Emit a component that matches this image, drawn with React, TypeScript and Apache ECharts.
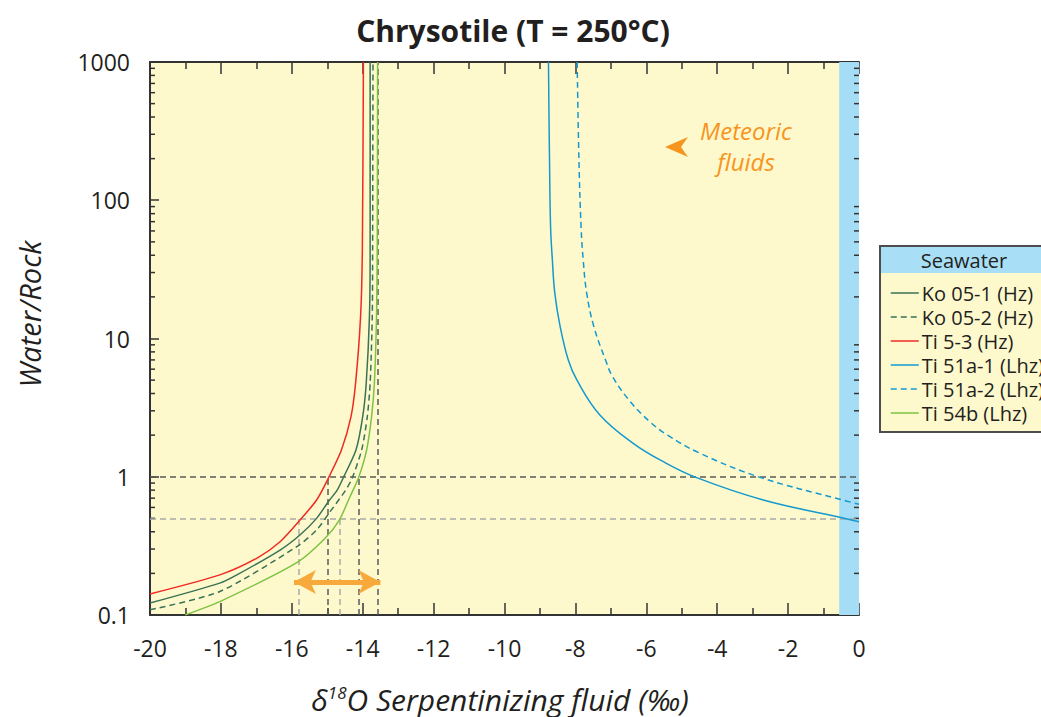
import React, { useEffect, useRef } from 'react';
import * as echarts from 'echarts';

// ---- data ----
const seriesNames = ['Ko 05-1 (Hz)', 'Ko 05-2 (Hz)', 'Ti 5-3 (Hz)', 'Ti 51a-1 (Lhz)', 'Ti 51a-2 (Lhz)', 'Ti 54b (Lhz)'];

const ko051X = [-20.0, -18.03, -17.55, -16.33, -15.77, -15.30, -14.97, -14.72, -14.55, -14.19, -14.0, -13.9, -13.81, -13.79, -13.79];
const ko051W = [0.122, 0.17, 0.195, 0.295, 0.379, 0.5, 0.66, 0.8, 0.98, 1.56, 2.72, 4.77, 14.4, 43.7, 1000];

const ko052X = [-20.0, -18.03, -15.86, -15.3, -14.92, -14.48, -14.3, -14.03, -13.87, -13.79, -13.73, -13.72, -13.71];
const ko052W = [0.109, 0.148, 0.312, 0.412, 0.559, 0.8, 0.975, 1.56, 2.72, 4.77, 14.4, 43.7, 1000];

const ti53X = [-20.0, -18.03, -16.99, -16.33, -15.77, -15.3, -14.97, -14.6, -14.33, -14.2, -14.06, -14.01, -13.98];
const ti53W = [0.142, 0.195, 0.257, 0.339, 0.486, 0.679, 0.975, 1.56, 2.72, 4.77, 14.4, 43.7, 1000];

const ti51a1X = [-8.76, -8.73, -8.7, -8.65, -8.58, -8.43, -8.2, -7.96, -7.31, -6.37, -5.52, -4.58, -2.7, -0.54, 0.0];
const ti51a1W = [1000, 195, 64.4, 37, 21.2, 12.2, 6.98, 5.01, 2.8, 1.746, 1.285, 0.985, 0.679, 0.509, 0.473];

const ti51a2X = [-7.95, -7.9, -7.84, -7.78, -7.68, -7.48, -7.15, -6.95, -6.45, -5.9, -5.4, -4.49, -2.79, -0.54, 0.0];
const ti51a2W = [1000, 195, 64.4, 37, 21.2, 12.2, 6.98, 5.29, 3.49, 2.5, 2.0, 1.48, 0.99, 0.687, 0.632];

const ti54bX = [-19.01, -18.03, -15.86, -15.06, -14.66, -14.36, -14.12, -13.89, -13.75, -13.67, -13.61, -13.59, -13.58];
const ti54bW = [0.1, 0.125, 0.239, 0.359, 0.486, 0.717, 0.98, 1.56, 2.72, 4.77, 14.4, 43.7, 1000];

// reference (dashed) lines
const hLevels = [1, 0.5];
const vDarkX = [-15.0, -14.1];
const vDarkTopW = 1;
const vLightX = [-15.8, -14.66];
const vLightTopW = 0.5;
const vFullX = -13.57;

// seawater band
const seawaterRange = [-0.56, 0];

// range arrow (tip to tip)
const arrowEnds = [-15.94, -13.5];
const arrowW = 0.173;

// axes
const xMin = -20;
const xMax = 0;
const xStep = 2;
const yMin = 0.1;
const yMax = 1000;
const logMinorTicks = [0.2, 0.3, 0.4, 0.5, 0.6, 0.7, 0.8, 0.9, 2, 3, 4, 5, 6, 7, 8, 9, 20, 30, 40, 50, 60, 70, 80, 90, 200, 300, 400, 500, 600, 700, 800, 900];

const FONT = "'Open Sans', sans-serif";
const INK = '#231f20';
const AXIS = '#333333';

const zip = (xs: number[], ws: number[]) => xs.map((x, i) => [x, ws[i]]);

export default function App() {
  const ref = useRef<HTMLDivElement>(null);
  useEffect(() => {
    if (!ref.current) return;
    const chart = echarts.init(ref.current, undefined, { renderer: 'svg' });

    const lineSeries = (name: string, xs: number[], ws: number[], color: string, dashed: boolean, smooth: number) => ({
      name,
      type: 'line',
      data: zip(xs, ws),
      showSymbol: false,
      symbol: 'circle',
      symbolSize: 0,
      smooth,
      clip: true,
      z: 5,
      lineStyle: { color, width: 1.5, type: dashed ? [6, 4] : 'solid' },
      itemStyle: { color },
      emphasis: { disabled: true },
    });

    const dark = '#5a5a5a';
    const light = '#a9a9a9';
    const markLines: any[] = [];
    hLevels.forEach((w, i) => {
      markLines.push([
        { coord: [xMin, w], lineStyle: { color: i === 0 ? dark : light, width: 1.5, type: [6, 4] } },
        { coord: [xMax, w] },
      ]);
    });
    vDarkX.forEach((x) => {
      markLines.push([
        { coord: [x, yMin], lineStyle: { color: dark, width: 1.5, type: [6, 4] } },
        { coord: [x, vDarkTopW] },
      ]);
    });
    vLightX.forEach((x) => {
      markLines.push([
        { coord: [x, yMin], lineStyle: { color: light, width: 1.5, type: [6, 4] } },
        { coord: [x, vLightTopW] },
      ]);
    });
    markLines.push([
      { coord: [vFullX, yMin], lineStyle: { color: dark, width: 1.5, type: [6, 4] } },
      { coord: [vFullX, yMax] },
    ]);

    const option: any = {
      animation: false,
      textStyle: { fontFamily: FONT },
      title: {
        text: 'Chrysotile (T = 250°C)',
        left: 508,
        textAlign: 'center',
        top: 10,
        textStyle: { fontFamily: FONT, fontWeight: 'bold', fontSize: 30, color: INK },
      },
      grid: {
        left: 150,
        right: 182,
        top: 62,
        bottom: 102,
        show: true,
        backgroundColor: '#fef9cd',
        borderWidth: 0,
      },
      legend: {
        data: seriesNames,
        orient: 'vertical',
        left: 880,
        top: 246,
        itemWidth: 28,
        itemHeight: 14,
        itemGap: 4,
        padding: [37, 40, 9, 10],
        backgroundColor: '#fef9cd',
        borderColor: '#4d4d4d',
        borderWidth: 2,
        borderRadius: 0,
        itemStyle: { opacity: 0, borderWidth: 0 },
        lineStyle: { width: 1.5 },
        textStyle: { fontFamily: FONT, fontSize: 20, lineHeight: 20, color: INK, padding: [0, 0, 0, -2] },
        selectedMode: false,
      },
      xAxis: [
        {
          type: 'value',
          position: 'bottom',
          min: xMin,
          max: xMax,
          interval: xStep,
          axisLine: { show: true, onZero: false, lineStyle: { color: AXIS, width: 2 } },
          axisTick: { show: true, inside: true, length: 12, lineStyle: { color: AXIS, width: 1.5 } },
          minorTick: { show: true, splitNumber: 2, length: 7, lineStyle: { color: AXIS, width: 1.5 } },
          axisLabel: { fontFamily: FONT, fontSize: 23, color: INK, margin: 21 },
          splitLine: { show: false },
        },
        {
          type: 'value',
          position: 'top',
          min: xMin,
          max: xMax,
          interval: xStep,
          axisLine: { show: true, onZero: false, lineStyle: { color: AXIS, width: 2 } },
          axisTick: { show: true, inside: true, length: 12, lineStyle: { color: AXIS, width: 1.5 } },
          minorTick: { show: true, splitNumber: 2, length: 7, lineStyle: { color: AXIS, width: 1.5 } },
          axisLabel: { show: false },
          splitLine: { show: false },
        },
      ],
      yAxis: [
        {
          type: 'log',
          logBase: 10,
          min: yMin,
          max: yMax,
          position: 'left',
          axisLine: { show: true, onZero: false, lineStyle: { color: AXIS, width: 2 } },
          axisTick: { show: true, inside: true, length: 9, lineStyle: { color: AXIS, width: 1.5 } },
          axisLabel: {
            fontFamily: FONT,
            fontSize: 23,
            color: INK,
            margin: 20,
            formatter: (v: number) => String(parseFloat(v.toPrecision(3))),
          },
          splitLine: { show: false },
        },
        {
          type: 'log',
          logBase: 10,
          min: yMin,
          max: yMax,
          position: 'right',
          axisLine: { show: false },
          axisTick: { show: true, inside: true, length: 9, lineStyle: { color: AXIS, width: 1.5 } },
          axisLabel: { show: false },
          splitLine: { show: false },
        },
      ],
      graphic: [
        {
          type: 'rect',
          z: 100,
          shape: { x: 881, y: 247, width: 170, height: 26 },
          style: { fill: '#a8dff6' },
        },
        {
          type: 'text',
          z: 101,
          x: 964,
          y: 260,
          style: { text: 'Seawater', font: `20px ${FONT}`, fill: INK, align: 'center', verticalAlign: 'middle' },
        },
        {
          type: 'text',
          z: 101,
          x: 29,
          y: 314,
          rotation: Math.PI / 2,
          style: { text: 'Water/Rock', font: `italic 29px ${FONT}`, fill: INK, align: 'center', verticalAlign: 'middle' },
        },
        {
          type: 'text',
          z: 101,
          x: 500,
          y: 699,
          style: {
            text: '{a|δ}{s|18}{a|O Serpentinizing fluid (‰)}',
            align: 'center',
            verticalAlign: 'middle',
            rich: {
              a: { font: `italic 30px ${FONT}`, fill: INK, color: INK },
              s: { font: `italic 17px ${FONT}`, fill: INK, color: INK, verticalAlign: 'top', padding: [0, 0, 12, 0] },
            },
          },
        },
        {
          type: 'text',
          z: 101,
          x: 746,
          y: 130,
          style: { text: 'Meteoric', font: `italic 24px ${FONT}`, fill: '#f7941d', align: 'center', verticalAlign: 'middle' },
        },
        {
          type: 'text',
          z: 101,
          x: 746,
          y: 161,
          style: { text: 'fluids', font: `italic 24px ${FONT}`, fill: '#f7941d', align: 'center', verticalAlign: 'middle' },
        },
        {
          type: 'polygon',
          z: 101,
          shape: { points: [[665, 147], [688, 137], [681, 147], [688, 157]] },
          style: { fill: '#f7941d' },
        },
      ],
      series: [
        {
          name: 'seawater-band',
          type: 'line',
          data: [],
          z: 1,
          markArea: {
            silent: true,
            itemStyle: { color: '#a6ddf6', opacity: 1 },
            data: [[{ coord: [seawaterRange[0], yMin] }, { coord: [seawaterRange[1], yMax] }]],
          },
        },
        {
          name: 'minor-ticks',
          type: 'custom',
          z: 3,
          silent: true,
          data: logMinorTicks.map((v) => [xMin, v]),
          renderItem: (params: any, api: any) => {
            const v = api.value(1);
            const pL = api.coord([xMin, v]);
            const pR = api.coord([xMax, v]);
            return {
              type: 'group',
              children: [
                { type: 'line', shape: { x1: pL[0], y1: pL[1], x2: pL[0] + 5, y2: pL[1] }, style: { stroke: AXIS, lineWidth: 1.5 } },
                { type: 'line', shape: { x1: pR[0] - 5, y1: pR[1], x2: pR[0], y2: pR[1] }, style: { stroke: AXIS, lineWidth: 1.5 } },
              ],
            };
          },
        },
        {
          name: 'ref-lines',
          type: 'line',
          data: [],
          z: 4,
          markLine: {
            silent: true,
            symbol: 'none',
            label: { show: false },
            data: markLines,
          },
        },
        lineSeries(seriesNames[0], ko051X, ko051W, '#3a7256', false, 0.25),
        lineSeries(seriesNames[1], ko052X, ko052W, '#3a7256', true, 0.25),
        lineSeries(seriesNames[2], ti53X, ti53W, '#ee2a24', false, 0.25),
        lineSeries(seriesNames[3], ti51a1X, ti51a1W, '#1399cf', false, 0.4),
        lineSeries(seriesNames[4], ti51a2X, ti51a2W, '#1399cf', true, 0.4),
        lineSeries(seriesNames[5], ti54bX, ti54bW, '#7dc242', false, 0.25),
        {
          name: 'range-arrow',
          type: 'line',
          data: [],
          z: 8,
          markLine: {
            silent: true,
            symbol: ['arrow', 'arrow'],
            symbolSize: [18, 22],
            label: { show: false },
            lineStyle: { color: '#f8a93b', width: 5, type: 'solid' },
            data: [[{ coord: [arrowEnds[0], arrowW] }, { coord: [arrowEnds[1], arrowW] }]],
          },
        },
      ],
    };
    chart.setOption(option);
    return () => chart.dispose();
  }, []);
  return <div ref={ref} style={{ position: 'absolute', left: 0, top: 0, width: 1041, height: 717 }} />;
}
